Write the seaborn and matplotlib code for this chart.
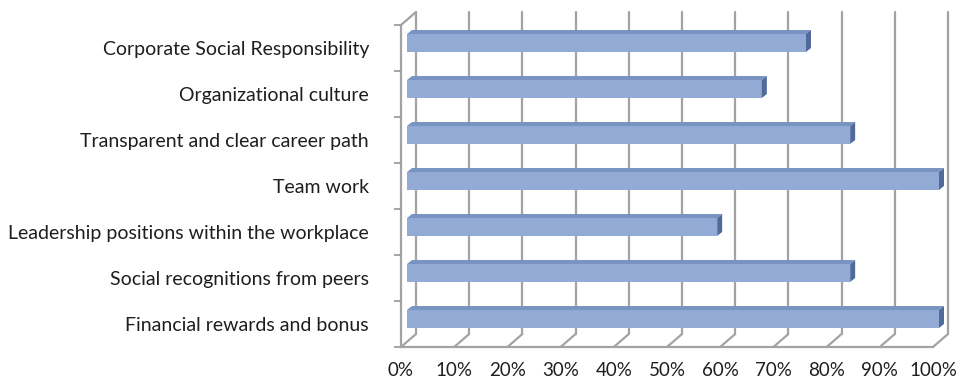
import numpy as np
import pandas as pd
import matplotlib
matplotlib.use("Agg")
import matplotlib.pyplot as plt
import seaborn as sns
from matplotlib.transforms import Affine2D, IdentityTransform
from matplotlib.patches import Polygon
from matplotlib.lines import Line2D

# Share of respondents naming each factor (n = 12)
categories = [
    "Corporate Social Responsibility",
    "Organizational culture",
    "Transparent and clear career path",
    "Team work",
    "Leadership positions within the workplace",
    "Social recognitions from peers",
    "Financial rewards and bonus",
]
shares = [75.0, 66.7, 83.3, 100.0, 58.3, 83.3, 100.0]
x_ticks = list(range(0, 101, 10))
x_tick_labels = [f"{t}%" for t in x_ticks]

FRONT = "#93AAD4"
TOP = "#7893C2"
SIDE = "#4F6A9B"
GRID = "#A3A3A3"
TEXT = "#1E1E1E"

# pixel offsets used for the pseudo-3D look
WALL_DX, WALL_DY = 15, 13      # depth of the whole plot box
BAR_DX, BAR_DY = 6, 5          # bar front face sits this far behind the front plane
BDX, BDY = 5, 4                # depth of each bar

sns.set_theme(style="white")
plt.rcParams["font.family"] = ["Lato", "DejaVu Sans"]

fig = plt.figure(figsize=(9.58, 3.83), dpi=100)
ax = fig.add_axes([401 / 958, 36 / 383, 532 / 958, 322 / 383])

df = pd.DataFrame({"factor": categories, "share": shares})
sns.barplot(data=df, x="share", y="factor", orient="h", width=0.39,
            color=FRONT, saturation=1, linewidth=0, ax=ax, zorder=3)

ax.set_xlim(0, 100)
ax.set_ylim(len(categories) - 0.5, -0.5)
ax.set_xlabel("")
ax.set_ylabel("")

ymin, ymax = len(categories) - 0.5, -0.5
back = Affine2D().translate(WALL_DX, WALL_DY)

# back wall gridlines
for t in x_ticks:
    ax.plot([t, t], [ymin, ymax], transform=ax.transData + back,
            color=GRID, lw=1.6, clip_on=False, zorder=1)

# floor diagonals at each tick and the top-left edge of the side wall
edges = [(t, ymin) for t in x_ticks] + [(0, ymax)]
for (xd, yd) in edges:
    px, py = ax.transData.transform((xd, yd))
    ax.add_line(Line2D([px, px + WALL_DX], [py, py + WALL_DY],
                       transform=IdentityTransform(), color=GRID, lw=1.6,
                       clip_on=False, zorder=1))

# bars: shift the front faces back and add top and end faces
shift = ax.transData + Affine2D().translate(BAR_DX, BAR_DY)
for p in list(ax.patches):
    p.set_transform(shift)
    p.set_clip_on(False)
    x0d, y0d = p.get_x(), p.get_y()
    x1d, y1d = x0d + p.get_width(), y0d + p.get_height()
    (ax0, ay0), (ax1, ay1) = shift.transform([(x0d, y0d), (x1d, y1d)])
    xl, xr = min(ax0, ax1), max(ax0, ax1)
    yb, yt = min(ay0, ay1), max(ay0, ay1)
    top = Polygon([(xl, yt), (xr, yt), (xr + BDX, yt + BDY), (xl + BDX, yt + BDY)],
                  closed=True, transform=IdentityTransform(), facecolor=TOP,
                  edgecolor="none", clip_on=False, zorder=3)
    side = Polygon([(xr, yb), (xr, yt), (xr + BDX, yt + BDY), (xr + BDX, yb + BDY)],
                   closed=True, transform=IdentityTransform(), facecolor=SIDE,
                   edgecolor="none", clip_on=False, zorder=3)
    ax.add_patch(top)
    ax.add_patch(side)

# axes lines and ticks
for s in ["top", "right"]:
    ax.spines[s].set_visible(False)
for s in ["left", "bottom"]:
    ax.spines[s].set_color(GRID)
    ax.spines[s].set_linewidth(1.6)
    ax.spines[s].set_zorder(2)

ax.set_xticks(x_ticks, x_tick_labels)
ax.tick_params(axis="x", length=7, width=1.4, color=GRID, pad=4,
               labelsize=13.5, labelcolor=TEXT)
ax.set_yticks(np.arange(len(categories) + 1) - 0.5, minor=True)
ax.tick_params(axis="y", which="major", length=0, pad=23,
               labelsize=14, labelcolor=TEXT)
ax.tick_params(axis="y", which="minor", length=5, width=1.4, color=GRID,
               left=True)
ax.grid(False)

fig.savefig("out.png", dpi=100, facecolor="white")
